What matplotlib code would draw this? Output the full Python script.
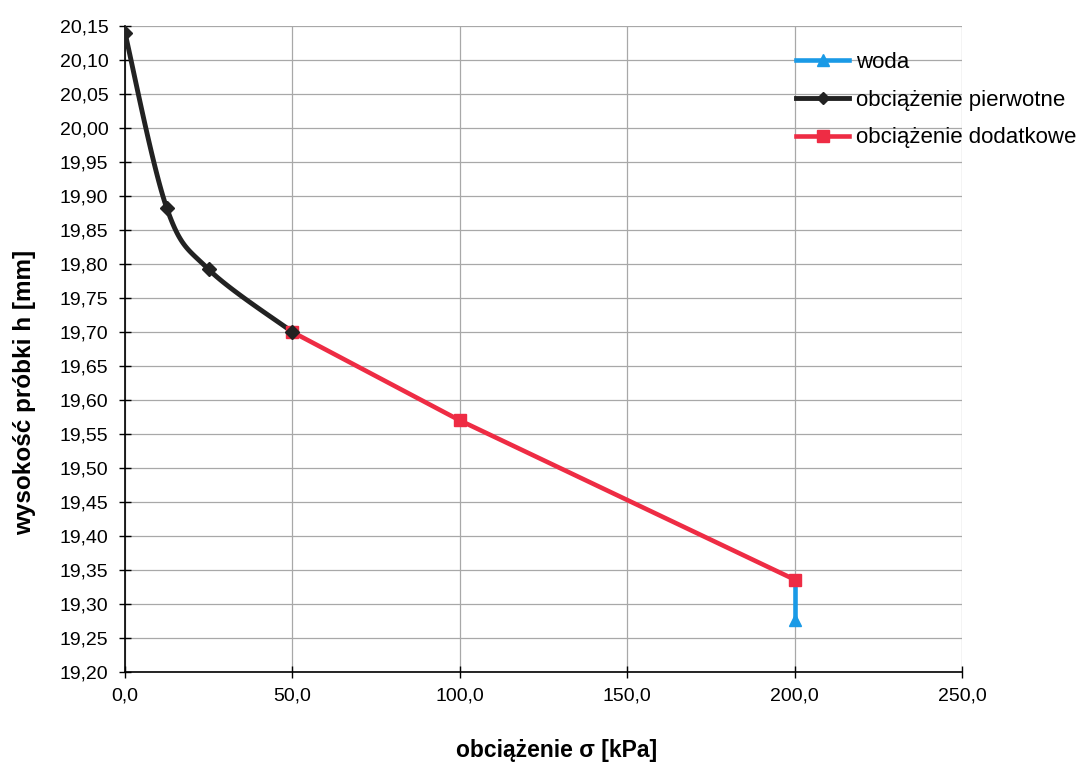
import numpy as np
import matplotlib
matplotlib.use("Agg")
import matplotlib.pyplot as plt
from matplotlib.ticker import FuncFormatter, MultipleLocator
from matplotlib.lines import Line2D

plt.rcParams['font.family'] = ['Liberation Sans', 'DejaVu Sans']

# Loading stages: primary loading, additional loading, and water saturation
sigma_primary = [0.0, 12.5, 25.0, 50.0]
h_primary = [20.14, 19.882, 19.792, 19.70]

sigma_additional = [50.0, 100.0, 200.0]
h_additional = [19.70, 19.57, 19.336]

sigma_water = [200.0, 200.0]
h_water = [19.336, 19.277]

labels = ["woda", "obciążenie pierwotne", "obciążenie dodatkowe"]
colors = {"woda": "#1a9ae6", "pierwotne": "#222222", "dodatkowe": "#ee2c44"}


def smooth_curve(ax, xs, ys, n=40):
    """Catmull-Rom smoothing done in display space, returned in data coords."""
    pts = ax.transData.transform(np.column_stack([xs, ys]))
    p = np.vstack([pts[0], pts, pts[-1]])
    out = []
    for i in range(1, len(p) - 2):
        p0, p1, p2, p3 = p[i - 1], p[i], p[i + 1], p[i + 2]
        t = np.linspace(0, 1, n)[:, None]
        c = 0.5 * ((2 * p1) + (-p0 + p2) * t + (2 * p0 - 5 * p1 + 4 * p2 - p3) * t ** 2
                   + (-p0 + 3 * p1 - 3 * p2 + p3) * t ** 3)
        out.append(c if i == 1 else c[1:])
    out = np.vstack(out)
    d = ax.transData.inverted().transform(out)
    return d[:, 0], d[:, 1]


fig = plt.figure(figsize=(10.82, 7.64), dpi=100)
ax = fig.add_axes([0.1155, 0.1204, 0.7735, 0.8456])
ax.set_xlim(0, 250)
ax.set_ylim(19.20, 20.15)

ax.xaxis.set_major_locator(MultipleLocator(50))
ax.yaxis.set_major_locator(MultipleLocator(0.05))
ax.xaxis.set_major_formatter(FuncFormatter(lambda v, p: f"{v:.1f}".replace(".", ",")))
ax.yaxis.set_major_formatter(FuncFormatter(lambda v, p: f"{v:.2f}".replace(".", ",")))

ax.grid(True, color="#a8a8a8", linewidth=0.9)
ax.set_axisbelow(True)
for side in ("top", "right"):
    ax.spines[side].set_visible(False)
for side in ("left", "bottom"):
    ax.spines[side].set_color("black")
    ax.spines[side].set_linewidth(1.2)
ax.tick_params(direction="inout", length=8, width=1.0, labelsize=14, colors="black")
ax.tick_params(axis="y", pad=8)
ax.tick_params(axis="x", pad=7)

# primary loading (smoothed)
fig.canvas.draw()
xs, ys = smooth_curve(ax, sigma_primary, h_primary)
ax.plot(xs, ys, color=colors["pierwotne"], lw=3.5, solid_capstyle="round", zorder=3)
ax.plot(sigma_primary, h_primary, ls="none", marker="D", ms=7,
        color=colors["pierwotne"], zorder=4)

# additional loading
ax.plot(sigma_additional, h_additional, color=colors["dodatkowe"], lw=3.3,
        marker="s", ms=8.5, zorder=3)

# water
ax.plot(sigma_water, h_water, color=colors["woda"], lw=3.3, zorder=2)
ax.plot(sigma_water[1:], h_water[1:], ls="none", marker="^", ms=8.5,
        color=colors["woda"], zorder=2)

ax.set_xlabel("obciążenie σ [kPa]", fontsize=16.5, fontweight="bold")
ax.xaxis.set_label_coords(0.5155, -0.103)
ax.set_ylabel("wysokość próbki h [mm]", fontsize=17.5, fontweight="bold")
ax.yaxis.set_label_coords(-0.106, 0.433)

handles = [
    Line2D([], [], color=colors["woda"], lw=3.3, marker="^", ms=8.5),
    Line2D([], [], color=colors["pierwotne"], lw=3.5, marker="D", ms=6),
    Line2D([], [], color=colors["dodatkowe"], lw=3.3, marker="s", ms=8.5),
]
fig.legend(handles, labels, loc="upper left", bbox_to_anchor=(0.7173, 0.958),
           frameon=False, fontsize=16, handlelength=2.4, handletextpad=0.3,
           labelspacing=0.75, markerfirst=True)

fig.savefig("out.png", dpi=100, facecolor="white")
